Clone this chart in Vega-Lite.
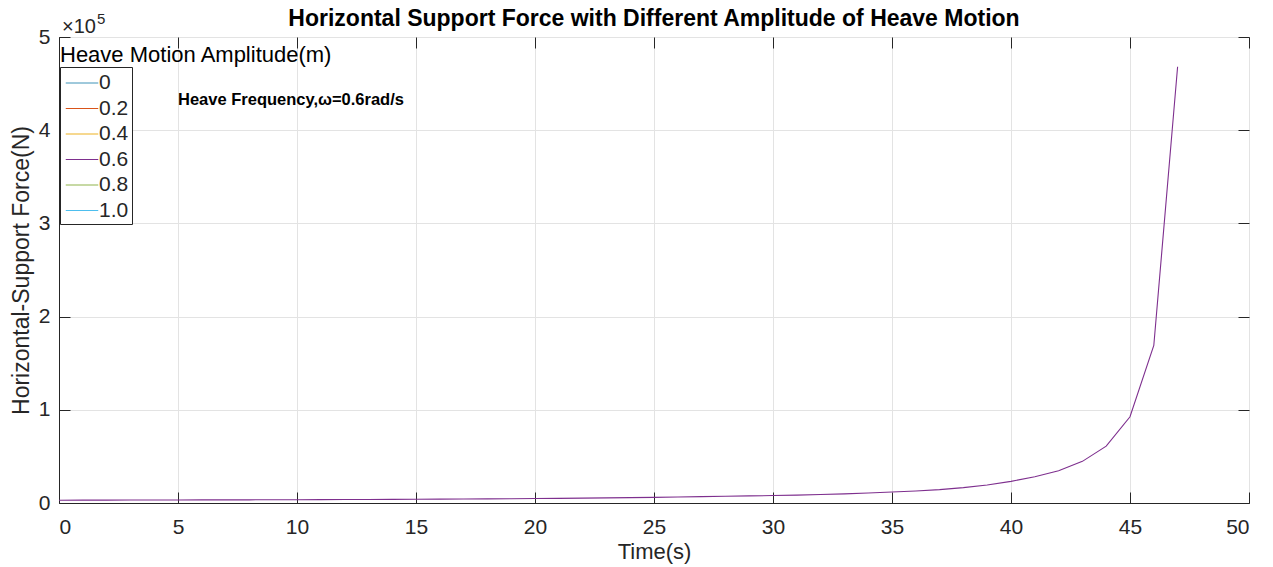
{
  "$schema": "https://vega.github.io/schema/vega-lite/v6.json",
  "autosize": {"type": "none"},
  "padding": {"left": 59, "top": 37, "right": 24, "bottom": 64},
  "width": 1190,
  "height": 466,
  "background": "white",
  "title": {
    "text": "Horizontal Support Force with Different Amplitude of Heave Motion",
    "font": "Liberation Sans",
    "fontSize": 23,
    "fontWeight": "bold",
    "color": "#000000",
    "anchor": "middle",
    "offset": -19
  },
  "config": {
    "view": {"stroke": "#262626", "strokeWidth": 1},
    "font": "Liberation Sans",
    "axis": {
      "domainColor": "#262626",
      "tickColor": "#262626",
      "labelColor": "#262626",
      "titleColor": "#262626",
      "labelFont": "Liberation Sans",
      "titleFont": "Liberation Sans",
      "labelFontSize": 21,
      "titleFontSize": 22,
      "titleFontWeight": "normal",
      "gridColor": "#e3e3e3",
      "gridWidth": 1,
      "tickSize": -11,
      "tickWidth": 1
    },
    "legend": {
      "orient": "none",
      "legendX": 1,
      "legendY": 30,
      "strokeColor": "#262626",
      "fillColor": "white",
      "padding": 3,
      "labelFont": "Liberation Sans",
      "labelFontSize": 21,
      "labelColor": "#262626",
      "labelOffset": 4,
      "symbolOffset": 6,
      "symbolSize": 625,
      "symbolStrokeWidth": 1,
      "rowPadding": 2.5
    }
  },
  "resolve": {"axis": {"x": "independent", "y": "independent"}},
  "layer": [
    {
      "data": {
        "values": [
          {"time": 0, "force": 3000, "amplitude": "0.6"},
          {"time": 1, "force": 3050, "amplitude": "0.6"},
          {"time": 2, "force": 3100, "amplitude": "0.6"},
          {"time": 3, "force": 3150, "amplitude": "0.6"},
          {"time": 4, "force": 3200, "amplitude": "0.6"},
          {"time": 5, "force": 3250, "amplitude": "0.6"},
          {"time": 6, "force": 3300, "amplitude": "0.6"},
          {"time": 7, "force": 3350, "amplitude": "0.6"},
          {"time": 8, "force": 3400, "amplitude": "0.6"},
          {"time": 9, "force": 3450, "amplitude": "0.6"},
          {"time": 10, "force": 3500, "amplitude": "0.6"},
          {"time": 11, "force": 3600, "amplitude": "0.6"},
          {"time": 12, "force": 3700, "amplitude": "0.6"},
          {"time": 13, "force": 3800, "amplitude": "0.6"},
          {"time": 14, "force": 3900, "amplitude": "0.6"},
          {"time": 15, "force": 4000, "amplitude": "0.6"},
          {"time": 16, "force": 4150, "amplitude": "0.6"},
          {"time": 17, "force": 4300, "amplitude": "0.6"},
          {"time": 18, "force": 4450, "amplitude": "0.6"},
          {"time": 19, "force": 4600, "amplitude": "0.6"},
          {"time": 20, "force": 4800, "amplitude": "0.6"},
          {"time": 21, "force": 5000, "amplitude": "0.6"},
          {"time": 22, "force": 5250, "amplitude": "0.6"},
          {"time": 23, "force": 5500, "amplitude": "0.6"},
          {"time": 24, "force": 5750, "amplitude": "0.6"},
          {"time": 25, "force": 6000, "amplitude": "0.6"},
          {"time": 26, "force": 6400, "amplitude": "0.6"},
          {"time": 27, "force": 6800, "amplitude": "0.6"},
          {"time": 28, "force": 7200, "amplitude": "0.6"},
          {"time": 29, "force": 7600, "amplitude": "0.6"},
          {"time": 30, "force": 8000, "amplitude": "0.6"},
          {"time": 31, "force": 8500, "amplitude": "0.6"},
          {"time": 32, "force": 9100, "amplitude": "0.6"},
          {"time": 33, "force": 9800, "amplitude": "0.6"},
          {"time": 34, "force": 10700, "amplitude": "0.6"},
          {"time": 35, "force": 11800, "amplitude": "0.6"},
          {"time": 36, "force": 12900, "amplitude": "0.6"},
          {"time": 37, "force": 14300, "amplitude": "0.6"},
          {"time": 38, "force": 16500, "amplitude": "0.6"},
          {"time": 39, "force": 19300, "amplitude": "0.6"},
          {"time": 40, "force": 23200, "amplitude": "0.6"},
          {"time": 41, "force": 28200, "amplitude": "0.6"},
          {"time": 42, "force": 34700, "amplitude": "0.6"},
          {"time": 43, "force": 44700, "amplitude": "0.6"},
          {"time": 44, "force": 61000, "amplitude": "0.6"},
          {"time": 45, "force": 92500, "amplitude": "0.6"},
          {"time": 46, "force": 169000, "amplitude": "0.6"},
          {"time": 47, "force": 468000, "amplitude": "0.6"}
        ]
      },
      "mark": {"type": "line", "strokeWidth": 1.1, "clip": true},
      "encoding": {
        "x": {
          "field": "time", "type": "quantitative",
          "scale": {"domain": [0, 50], "nice": false, "zero": false},
          "axis": {
            "title": "Time(s)",
            "values": [0, 5, 10, 15, 20, 25, 30, 35, 40, 45, 50],
            "labelPadding": 24,
            "titlePadding": 4,
            "grid": true
          }
        },
        "y": {
          "field": "force", "type": "quantitative",
          "scale": {"domain": [0, 500000], "nice": false, "zero": true},
          "axis": {
            "title": "Horizontal-Support Force(N)",
            "titleFontSize": 23,
            "values": [0, 100000, 200000, 300000, 400000, 500000],
            "labelExpr": "format(datum.value / 100000, 'd')",
            "labelPadding": 20,
            "titlePadding": 5,
            "grid": true
          }
        },
        "color": {
          "field": "amplitude", "type": "nominal",
          "scale": {
            "domain": ["0", "0.2", "0.4", "0.6", "0.8", "1.0"],
            "range": ["#3f93b8", "#D95319", "#EDB120", "#7E2F8E", "#8fb34a", "#4DBEEE"]
          },
          "legend": {
            "title": null,
            "symbolType": "M-1.3,0L1.3,0",
            "encode": {
              "symbols": {
                "update": {
                  "stroke": {"scale": "color", "field": "value"},
                  "strokeWidth": {"value": 1},
                  "fill": {"value": "transparent"}
                }
              }
            }
          }
        }
      }
    },
    {
      "data": {"values": [{"time": 5, "force": 432000, "label": "Heave Frequency,ω=0.6rad/s"}]},
      "mark": {"type": "text", "align": "left", "baseline": "middle", "fontSize": 16.5, "fontWeight": "bold", "color": "#000000", "font": "Liberation Sans"},
      "encoding": {
        "x": {"field": "time", "type": "quantitative",
              "axis": {"orient": "top", "labels": false, "title": null, "grid": false, "domain": false,
                       "values": [0, 5, 10, 15, 20, 25, 30, 35, 40, 45, 50]}},
        "y": {"field": "force", "type": "quantitative",
              "axis": {"orient": "right", "labels": false, "title": null, "grid": false, "domain": false,
                       "values": [0, 100000, 200000, 300000, 400000, 500000]}},
        "text": {"field": "label"}
      }
    },
    {
      "data": {"values": [{"time": 0, "force": 500000, "label": "Heave Motion Amplitude(m)"}]},
      "mark": {"type": "text", "align": "left", "baseline": "alphabetic", "dx": 1, "dy": 25, "fontSize": 22, "color": "#000000", "font": "Liberation Sans"},
      "encoding": {
        "x": {"field": "time", "type": "quantitative", "axis": null},
        "y": {"field": "force", "type": "quantitative", "axis": null},
        "text": {"field": "label"}
      }
    },
    {
      "data": {"values": [{"time": 0, "force": 500000, "label": "×10"}]},
      "mark": {"type": "text", "align": "left", "baseline": "alphabetic", "dx": 3, "dy": -4, "fontSize": 20, "color": "#262626", "font": "Liberation Sans"},
      "encoding": {
        "x": {"field": "time", "type": "quantitative", "axis": null},
        "y": {"field": "force", "type": "quantitative", "axis": null},
        "text": {"field": "label"}
      }
    },
    {
      "data": {"values": [{"time": 0, "force": 500000, "label": "5"}]},
      "mark": {"type": "text", "align": "left", "baseline": "alphabetic", "dx": 38, "dy": -13, "fontSize": 15, "color": "#262626", "font": "Liberation Sans"},
      "encoding": {
        "x": {"field": "time", "type": "quantitative", "axis": null},
        "y": {"field": "force", "type": "quantitative", "axis": null},
        "text": {"field": "label"}
      }
    }
  ]
}
